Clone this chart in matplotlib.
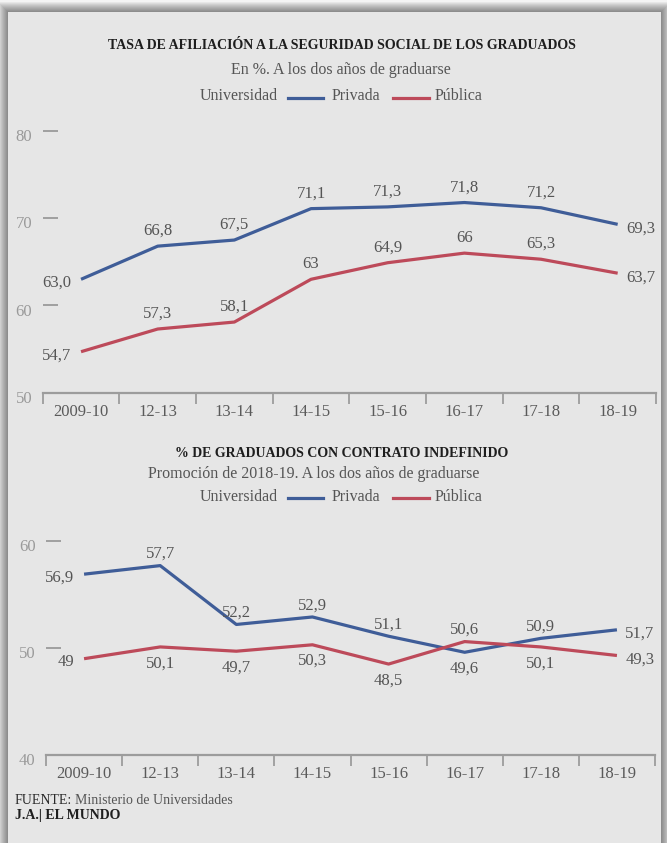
import numpy as np
import matplotlib
matplotlib.use('Agg')
import matplotlib.pyplot as plt
import matplotlib.transforms as mtransforms
from matplotlib.patches import Rectangle
from matplotlib.lines import Line2D

plt.rcParams['font.family'] = ['Liberation Serif', 'DejaVu Serif']

W, H = 667, 843

periodos = ['2009-10', '12-13', '13-14', '14-15', '15-16', '16-17', '17-18', '18-19']

# Tasa de afiliación a la Seguridad Social (%)
afil_privada = [63.0, 66.8, 67.5, 71.1, 71.3, 71.8, 71.2, 69.3]
afil_publica = [54.7, 57.3, 58.1, 63.0, 64.9, 66.0, 65.3, 63.7]

# Graduados con contrato indefinido (%)
indef_privada = [56.9, 57.7, 52.2, 52.9, 51.1, 49.6, 50.9, 51.7]
indef_publica = [49.0, 50.1, 49.7, 50.3, 48.5, 50.6, 50.1, 49.3]

AZUL = '#3f5d98'
ROJO = '#bd4a5a'
FONDO = '#e6e6e6'


def px(x, y):
    """pixel position (origin top-left) -> figure fraction"""
    return x / W, 1 - y / H


def ax_rect(x0, x1, y_top, y_bot):
    return [x0 / W, 1 - y_bot / H, (x1 - x0) / W, (y_bot - y_top) / H]


fig = plt.figure(figsize=(W / 100, H / 100), dpi=100)
fig.patch.set_facecolor('#f4f4f4')

# soft drop shadow round the card, then the card itself
for i in range(10, 0, -1):
    x0, y0 = px(8 - i, 12 - i)
    fig.patches.append(Rectangle((x0, 0), (653 + 2 * i) / W, y0,
                                 transform=fig.transFigure, color='black',
                                 alpha=0.05, lw=0, zorder=-20))
x0, y0 = px(8, 12)
fig.patches.append(Rectangle((x0, 0), 653 / W, y0, transform=fig.transFigure,
                             color=FONDO, lw=0, zorder=-10))


def etiqueta(ax, x, y, txt, pos, sube):
    if pos == 'a':
        kw = dict(xytext=(0, sube), ha='center', va='baseline')
    elif pos == 'b':
        kw = dict(xytext=(0, -6), ha='center', va='top')
    elif pos == 'l':
        kw = dict(xytext=(-7, -2.5), ha='right', va='center')
    else:
        kw = dict(xytext=(6, -3), ha='left', va='center')
    ax.annotate(txt, (x, y), textcoords='offset points', fontsize=12,
                color='#555555', annotation_clip=False, **kw)


def panel(rect, ylim, yticks, series, sube):
    ax = fig.add_axes(rect)
    ax.set_facecolor('none')
    n = len(periodos)
    ax.set_xlim(-0.5, n - 0.5)
    ax.set_ylim(*ylim)
    for s in ('top', 'right', 'left'):
        ax.spines[s].set_visible(False)
    ax.spines['bottom'].set_color('#9c9c9c')
    ax.spines['bottom'].set_linewidth(1.6)
    ax.set_xticks(range(n))
    ax.set_xticklabels(periodos)
    ax.set_xticks(np.arange(-0.5, n), minor=True)
    ax.tick_params(axis='x', which='major', length=0, pad=8, labelsize=12,
                   labelcolor='#5a5a5a')
    ax.tick_params(axis='x', which='minor', length=8, width=1.3,
                   color='#9c9c9c', direction='out')
    ax.set_yticks(yticks)
    ax.tick_params(axis='y', direction='in', length=11, width=1.1,
                   color='#8c8c8c', pad=7.5, labelsize=12, labelcolor='#9a9a9a')
    # y labels sit a little below their dash
    baja = mtransforms.ScaledTranslation(0, -3 / 72, fig.dpi_scale_trans)
    for lab in ax.get_yticklabels():
        lab.set_transform(lab.get_transform() + baja)
    xs = np.arange(n)
    for vals, color, fmt, posiciones in series:
        ax.plot(xs, vals, color=color, lw=2.3, solid_capstyle='butt', zorder=3)
        for x, v, p in zip(xs, vals, posiciones):
            etiqueta(ax, x, v, fmt.format(v).replace('.', ','), p, sube)
    return ax


def cabecera(y_tit, titulo, y_sub, subtitulo, x_sub, y_ley):
    fig.text(*px(342, y_tit), titulo, ha='center', va='center', fontsize=10,
             fontweight='bold', color='#1e1e1e')
    fig.text(*px(x_sub, y_sub), subtitulo, ha='center', va='center',
             fontsize=11.5, color='#555555')
    fig.text(*px(200, y_ley), 'Universidad', ha='left', va='center',
             fontsize=11.5, color='#555555')
    fig.lines.append(Line2D([288 / W, 323 / W], [1 - (y_ley + 1) / H] * 2,
                            transform=fig.transFigure, color=AZUL, lw=2.3))
    fig.text(*px(332, y_ley), 'Privada', ha='left', va='center',
             fontsize=11.5, color='#555555')
    fig.lines.append(Line2D([393 / W, 429 / W], [1 - (y_ley + 1) / H] * 2,
                            transform=fig.transFigure, color=ROJO, lw=2.3))
    fig.text(*px(435, y_ley), 'Pública', ha='left', va='center',
             fontsize=11.5, color='#555555')


# --- Afiliación ---
cabecera(45.5, 'TASA DE AFILIACIÓN A LA SEGURIDAD SOCIAL DE LOS GRADUADOS',
         69.5, 'En %. A los dos años de graduarse', 341, 96.5)
pos_sup = ['l', 'a', 'a', 'a', 'a', 'a', 'a', 'r']
panel(ax_rect(42.7, 656, 131, 392.7), (50, 80), [50, 60, 70, 80],
      [(afil_privada, AZUL, '{:.1f}', pos_sup),
       (afil_publica, ROJO, '{:g}', pos_sup)], sube=8)

# --- Contrato indefinido ---
cabecera(453.5, '% DE GRADUADOS CON CONTRATO INDEFINIDO',
         474.5, 'Promoción de 2018-19. A los dos años de graduarse', 314, 496.5)
panel(ax_rect(46, 655, 541, 755), (40, 60), [40, 50, 60],
      [(indef_privada, AZUL, '{:g}', ['l', 'a', 'a', 'a', 'a', 'b', 'a', 'r']),
       (indef_publica, ROJO, '{:g}', ['l', 'b', 'b', 'b', 'b', 'a', 'b', 'r'])],
      sube=5.5)

# --- pie ---
r = fig.canvas.get_renderer()
t = fig.text(*px(15, 801), 'FUENTE:', ha='left', va='center', fontsize=10,
             color='#2a2a2a')
bb = t.get_window_extent(r)
fig.text(bb.x1 / W + 3 / W, 1 - 801 / H, 'Ministerio de Universidades',
         ha='left', va='center', fontsize=10, color='#555555')
fig.text(*px(15, 815), 'J.A.| EL MUNDO', ha='left', va='center', fontsize=10,
         fontweight='bold', color='#1e1e1e')

fig.savefig('out.png', dpi=100, facecolor=fig.get_facecolor())
